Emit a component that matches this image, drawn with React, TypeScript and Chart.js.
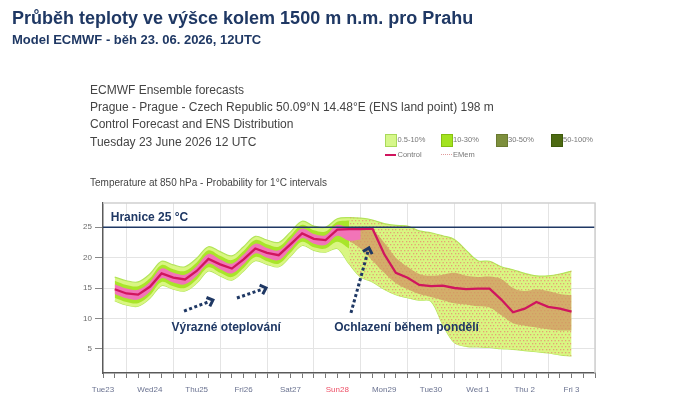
import React, { useEffect, useRef } from "react";
import { Chart, registerables } from "chart.js";
Chart.register(...registerables);

// ---- data (hours after Tue 23 June 12 UTC) ----
const HOURS = [6, 12, 18, 24, 30, 36, 42, 48, 54, 60, 66, 72, 78, 84, 90, 96, 102, 108, 114, 120, 126, 132, 138, 144, 150, 156, 162, 168, 174, 180, 186, 192, 198, 204, 210, 216, 222, 228, 234, 240];
const CONTROL = [14.8, 14.1, 13.9, 15.2, 17.4, 16.7, 16.4, 17.8, 19.8, 18.9, 18.2, 19.7, 21.5, 20.8, 20.4, 22.2, 24.0, 23.1, 22.9, 24.6, 24.7, 24.7, 24.8, 20.6, 17.5, 16.7, 15.5, 15.3, 15.4, 15.0, 14.8, 14.9, 14.9, 13.1, 11.0, 11.6, 12.7, 11.9, 11.6, 11.1];
// 0.5-10 % envelope
const OUTER_UPPER = [16.8, 16.2, 16.0, 17.3, 19.4, 18.8, 18.5, 19.9, 21.8, 21.0, 20.3, 21.8, 23.5, 22.9, 22.5, 24.2, 26.0, 25.2, 25.0, 26.4, 26.6, 26.5, 26.2, 25.6, 25.3, 25.2, 24.4, 24.1, 23.6, 23.0, 21.2, 19.5, 19.4, 18.5, 18.0, 17.4, 17.0, 17.0, 17.3, 17.8];
const OUTER_LOWER = [12.9, 12.2, 12.0, 13.3, 15.4, 14.8, 14.5, 15.8, 17.8, 17.0, 16.3, 17.8, 19.5, 18.9, 18.5, 20.2, 22.0, 21.2, 20.9, 21.5, 19.0, 16.8, 16.0, 14.8, 13.9, 13.4, 13.0, 12.8, 9.0, 6.0, 5.4, 5.3, 5.2, 5.0, 4.9, 4.7, 4.5, 4.3, 4.0, 3.8];
// 10-30 % band, first days (6 h .. 126 h)
const MID_UPPER = [16.2, 15.5, 15.3, 16.6, 18.8, 18.1, 17.8, 19.2, 21.2, 20.3, 19.6, 21.1, 22.9, 22.2, 21.8, 23.6, 25.4, 24.5, 24.3, 25.9, 26.1];
const MID_LOWER = [13.4, 12.7, 12.5, 13.8, 16.0, 15.3, 15.0, 16.4, 18.4, 17.5, 16.8, 18.3, 20.1, 19.4, 19.0, 20.8, 22.6, 21.7, 21.5, 22.6, 21.5];
// dense members core, first days (6 h .. 132 h)
const CORE_UPPER = [15.6, 14.9, 14.7, 16.0, 18.2, 17.5, 17.2, 18.6, 20.6, 19.7, 19.0, 20.5, 22.3, 21.6, 21.2, 23.0, 24.8, 23.9, 23.7, 25.4, 24.9, 24.8];
const CORE_LOWER = [14.0, 13.3, 13.1, 14.4, 16.6, 15.9, 15.6, 17.0, 19.0, 18.1, 17.4, 18.9, 20.7, 20.0, 19.6, 21.4, 23.2, 22.3, 22.1, 23.6, 22.8, 23.0];
// dense members core, later (126 h .. 240 h)
const TAN_UPPER = [24.9, 24.8, 24.5, 22.5, 20.0, 18.5, 17.3, 17.0, 17.2, 17.5, 17.0, 16.8, 16.9, 16.5, 15.0, 14.5, 14.8, 14.5, 14.0, 13.8];
const TAN_LOWER = [22.8, 21.5, 19.5, 17.5, 15.8, 14.8, 14.0, 13.5, 13.0, 12.5, 12.3, 12.0, 11.8, 10.5, 9.2, 8.8, 8.5, 8.2, 8.0, 8.0];
const THRESHOLD = 25;
const DAY_LABELS = ["Tue23", "Wed24", "Thu25", "Fri26", "Sat27", "Sun28", "Mon29", "Tue30", "Wed 1", "Thu 2", "Fri 3"];
const Y_TICKS = [5, 10, 15, 20, 25];

const NAVY = "#1f3864";
const FONT = '"Liberation Sans", Arial, sans-serif';

function pts(hs: number[], vs: number[]) {
  return vs.map((v, i) => ({ x: hs[i], y: v }));
}

function makePattern(): CanvasPattern | string {
  const c = document.createElement("canvas");
  c.width = 7;
  c.height = 6;
  const g = c.getContext("2d");
  if (!g) return "rgba(230,140,120,0.3)";
  g.fillStyle = "rgba(232,128,108,0.7)";
  g.fillRect(0, 1, 1.3, 1.3);
  g.fillRect(3, 1, 1.3, 1.3);
  g.fillRect(1.5, 4, 1.3, 1.3);
  g.fillRect(5, 4, 1.3, 1.3);
  const p = g.createPattern(c, "repeat");
  return p || "rgba(230,140,120,0.3)";
}

const annotationPlugin = {
  id: "annot",
  afterDatasetsDraw(chart: any) {
    const { ctx, scales } = chart;
    const X = (h: number) => scales.x.getPixelForValue(h);
    const Y = (v: number) => scales.y.getPixelForValue(v);
    ctx.save();
    ctx.fillStyle = NAVY;
    ctx.font = `bold 12px ${FONT}`;
    ctx.textBaseline = "alphabetic";
    ctx.textAlign = "left";
    ctx.fillText("Hranice 25 °C", X(3.95), Y(26.04));
    ctx.textAlign = "center";
    ctx.fillText("Výrazné oteplování", X(63.1), Y(7.97));
    ctx.fillText("Ochlazení během pondělí", X(155.5), Y(7.97));

    const arrows = [
      [41.5, 11.2, 56.3, 13.0],
      [68.6, 13.35, 83.5, 15.0],
      [127, 10.9, 136.2, 21.6],
    ];
    for (const a of arrows) {
      const x1 = X(a[0]), y1 = Y(a[1]), x2 = X(a[2]), y2 = Y(a[3]);
      const ang = Math.atan2(y2 - y1, x2 - x1);
      ctx.strokeStyle = NAVY;
      ctx.lineWidth = 3;
      ctx.setLineDash([3, 2.5]);
      ctx.beginPath();
      ctx.moveTo(x1, y1);
      ctx.lineTo(x2 - Math.cos(ang) * 4, y2 - Math.sin(ang) * 4);
      ctx.stroke();
      ctx.setLineDash([]);
      ctx.lineWidth = 3;
      ctx.lineJoin = "miter";
      const L = 7;
      ctx.beginPath();
      ctx.moveTo(x2 - L * Math.cos(ang - 0.75), y2 - L * Math.sin(ang - 0.75));
      ctx.lineTo(x2, y2);
      ctx.lineTo(x2 - L * Math.cos(ang + 0.75), y2 - L * Math.sin(ang + 0.75));
      ctx.stroke();
    }
    ctx.restore();
  },
  afterDraw(chart: any) {
    const { ctx, chartArea: a } = chart;
    ctx.save();
    ctx.strokeStyle = "#cfcfcf";
    ctx.lineWidth = 1.5;
    ctx.beginPath();
    ctx.moveTo(a.left, a.top);
    ctx.lineTo(a.right, a.top);
    ctx.lineTo(a.right, a.bottom);
    ctx.stroke();
    ctx.restore();
  },
};

function T(props: { x: number; b: number; size: number; bold?: boolean; color: string; children: any }) {
  return (
    <div
      style={{
        position: "absolute",
        left: props.x,
        top: props.b - 0.8465 * props.size,
        fontSize: props.size,
        lineHeight: `${props.size}px`,
        fontWeight: props.bold ? 700 : 400,
        color: props.color,
        whiteSpace: "nowrap",
        fontFamily: FONT,
      }}
    >
      {props.children}
    </div>
  );
}

function Box(props: { x: number; bg: string; border: string }) {
  return (
    <div
      style={{
        position: "absolute",
        left: props.x,
        top: 134,
        width: 10,
        height: 11,
        background: props.bg,
        border: `1px solid ${props.border}`,
      }}
    />
  );
}

export default function App() {
  const ref = useRef<HTMLCanvasElement>(null);
  useEffect(() => {
    const canvas = ref.current;
    if (!canvas) return;
    const pattern = makePattern();
    const late = HOURS.slice(20);
    const none = { pointRadius: 0, borderColor: "transparent", borderWidth: 0 };
    const chart = new Chart(canvas, {
      type: "line",
      data: {
        datasets: [
          {
            data: [
              { x: 0, y: THRESHOLD },
              { x: 252, y: THRESHOLD },
            ],
            borderColor: NAVY,
            borderWidth: 1.6,
            pointRadius: 0,
            fill: false,
          },
          {
            data: pts(HOURS, CONTROL),
            borderColor: "#d0155e",
            borderWidth: 2.3,
            pointRadius: 0,
            tension: 0,
            fill: false,
          },
          { data: pts(HOURS, CORE_UPPER), ...none, tension: 0.35, fill: "+1", backgroundColor: "#f274b8" },
          { data: pts(HOURS, CORE_LOWER), ...none, tension: 0.35, fill: false },
          { data: pts(late, TAN_UPPER), ...none, tension: 0.35, fill: "+1", backgroundColor: "rgba(208,150,98,0.75)" },
          { data: pts(late, TAN_LOWER), ...none, tension: 0.35, fill: false },
          { data: pts(late, OUTER_UPPER.slice(20)), ...none, tension: 0.35, fill: "+1", backgroundColor: pattern as any },
          { data: pts(late, OUTER_LOWER.slice(20)), ...none, tension: 0.35, fill: false },
          { data: pts(HOURS, MID_UPPER), ...none, tension: 0.35, fill: "+1", backgroundColor: "#a9e52a" },
          { data: pts(HOURS, MID_LOWER), ...none, tension: 0.35, fill: false },
          {
            data: pts(HOURS, OUTER_UPPER),
            pointRadius: 0,
            borderColor: "#b3e55a",
            borderWidth: 1.2,
            tension: 0.35,
            fill: "+1",
            backgroundColor: "#d9f682",
          },
          { data: pts(HOURS, OUTER_LOWER), pointRadius: 0, borderColor: "#b3e55a", borderWidth: 1.2, tension: 0.35, fill: false },
        ] as any,
      },
      options: {
        animation: false,
        responsive: false,
        devicePixelRatio: 1,
        layout: { padding: { top: 203, right: 105, bottom: 0, left: 0 } },
        plugins: { legend: { display: false }, tooltip: { enabled: false } },
        scales: {
          x: {
            type: "linear",
            min: 0,
            max: 252,
            afterFit: (s: any) => {
              s.height = 47;
            },
            afterBuildTicks: (s: any) => {
              const t = [];
              for (let h = 0; h <= 252; h += 6) t.push({ value: h });
              s.ticks = t;
            },
            ticks: {
              autoSkip: false,
              maxRotation: 0,
              padding: 7,
              font: { size: 8, family: FONT },
              color: (c: any) => (c.tick && c.tick.value === 120 ? "#ee4f66" : "#6b7391"),
              callback: (v: any) => (v % 24 === 0 && v / 24 < DAY_LABELS.length ? DAY_LABELS[v / 24] : ""),
            },
            grid: {
              color: (c: any) => (c.tick && c.tick.value % 24 === 12 ? "#e4e4e4" : "rgba(0,0,0,0)"),
              tickColor: "#777",
              tickLength: 5,
              lineWidth: 1,
            },
            border: { color: "#5a5a5a", width: 1.5 },
          },
          y: {
            min: 1,
            max: 29,
            afterFit: (s: any) => {
              s.width = 103;
            },
            afterBuildTicks: (s: any) => {
              s.ticks = Y_TICKS.map((v) => ({ value: v }));
            },
            ticks: {
              padding: 3,
              font: { size: 8, family: FONT },
              color: "#6b6b6b",
            },
            grid: { color: "#e4e4e4", tickColor: "#888", tickLength: 8 },
            border: { color: "#5a5a5a", width: 1.5 },
          },
        },
      },
      plugins: [annotationPlugin],
    } as any);
    return () => chart.destroy();
  }, []);

  return (
    <div
      style={{
        position: "absolute",
        left: 0,
        top: 0,
        width: 700,
        height: 420,
        background: "#fff",
        overflow: "hidden",
      }}
    >
      <canvas ref={ref} width={700} height={420} style={{ position: "absolute", left: 0, top: 0 }} />
      <T x={12} b={24} size={18} bold color={NAVY}>
        Průběh teploty ve výšce kolem 1500 m n.m. pro Prahu
      </T>
      <T x={12} b={44.5} size={13} bold color={NAVY}>
        Model ECMWF - běh 23. 06. 2026, 12UTC
      </T>
      <T x={90} b={94.3} size={12} color="#444">
        ECMWF Ensemble forecasts
      </T>
      <T x={90} b={111.3} size={12} color="#444">
        Prague - Prague - Czech Republic 50.09°N 14.48°E (ENS land point) 198 m
      </T>
      <T x={90} b={128.5} size={12} color="#444">
        Control Forecast and ENS Distribution
      </T>
      <T x={90} b={145.7} size={12} color="#444">
        Tuesday 23 June 2026 12 UTC
      </T>
      <T x={90} b={186.5} size={10} color="#444">
        Temperature at 850 hPa - Probability for 1°C intervals
      </T>
      <Box x={385} bg="#d6f78a" border="#a9d95a" />
      <Box x={441} bg="#a3e31f" border="#86c010" />
      <Box x={496} bg="#7d8f3d" border="#6a7a30" />
      <Box x={551} bg="#4d6a12" border="#3d5a0a" />
      <T x={397.5} b={142.5} size={7.5} color="#777">0.5-10%</T>
      <T x={453} b={142.5} size={7.5} color="#777">10-30%</T>
      <T x={508} b={142.5} size={7.5} color="#777">30-50%</T>
      <T x={563} b={142.5} size={7.5} color="#777">50-100%</T>
      <div style={{ position: "absolute", left: 385, top: 153.5, width: 11, height: 2, background: "#d0155e" }} />
      <div style={{ position: "absolute", left: 441, top: 154, width: 11, height: 0, borderTop: "1px dotted #e09a9a" }} />
      <T x={397.5} b={157} size={7.5} color="#777">Control</T>
      <T x={453} b={157} size={7.5} color="#777">EMem</T>
    </div>
  );
}
